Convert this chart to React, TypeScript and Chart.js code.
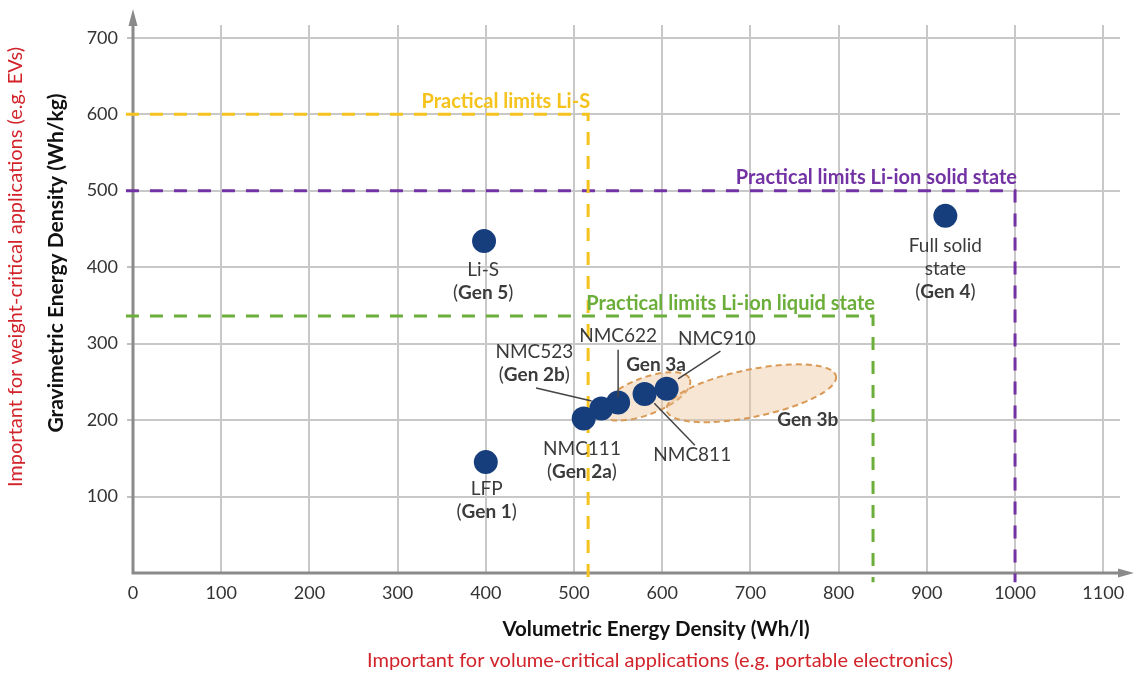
import React, { useEffect, useRef } from 'react';
import { Chart, registerables } from 'chart.js';

Chart.register(...registerables);

// ---------- data ----------
const pointNames = ['LFP', 'Li-S', 'NMC111', 'NMC523', 'NMC622', 'NMC811', 'NMC910', 'Full solid state'];
const volumetric = [400, 398, 511, 531, 550, 580, 605, 921];
const gravimetric = [145, 434, 202, 215, 223, 234, 241, 467];

const xTickValues = [0, 100, 200, 300, 400, 500, 600, 700, 800, 900, 1000, 1100];
const yTickValues = [100, 200, 300, 400, 500, 600, 700];

const limitNames = ['Practical limits Li-S', 'Practical limits Li-ion solid state', 'Practical limits Li-ion liquid state'];
const limitVolumetric = [516, 1000, 839];
const limitGravimetric = [600, 500, 336];
const limitColors = ['#f6c21c', '#7232a3', '#6cae3a'];

// text annotations ('*' toggles bold, '\n' new line)
const annoTexts = [
  'LFP\n(*Gen 1*)',
  'Li-S\n(*Gen 5*)',
  'NMC111\n(*Gen 2a*)',
  'NMC523\n(*Gen 2b*)',
  'NMC622',
  'NMC811',
  'NMC910',
  'Full solid\nstate\n(*Gen 4*)',
  '*Gen 3a*',
  '*Gen 3b*',
];
const annoX = [401, 397, 509, 455, 550, 634, 662, 921, 593, 765];
const annoY = [110, 396, 162, 289, 310, 154, 306, 428, 272, 200];

// leader lines in data units
const leaderFromX = [457, 550, 666, 591];
const leaderFromY = [242, 292, 290, 222];
const leaderToX = [520, 550, 618, 637];
const leaderToY = [225, 230, 254, 167];

// generation regions (ellipses)
const regionNames = ['Gen 3a', 'Gen 3b'];
const regionCx = [581, 701];
const regionCy = [231, 235];
const regionRx = [54, 98];
const regionRy = [24, 31];
const regionAngle = [-21, -11.5];

const FONT = 'Lato, "Noto Sans", sans-serif';

function drawRich(ctx: CanvasRenderingContext2D, text: string, cx: number, cy: number, size: number, color: string) {
  const parts = text.split('*');
  const widths: number[] = [];
  let total = 0;
  parts.forEach((p, i) => {
    ctx.font = `${i % 2 ? 'bold ' : ''}${size}px ${FONT}`;
    const w = ctx.measureText(p).width;
    widths.push(w);
    total += w;
  });
  let x = cx - total / 2;
  ctx.textAlign = 'left';
  ctx.textBaseline = 'middle';
  parts.forEach((p, i) => {
    ctx.font = `${i % 2 ? 'bold ' : ''}${size}px ${FONT}`;
    ctx.fillStyle = color;
    ctx.fillText(p, x, cy);
    x += widths[i];
  });
}

const overlayPlugin = {
  id: 'overlay',
  beforeDatasetsDraw(chart: any) {
    const { ctx, scales } = chart;
    const xs = scales.x;
    const ys = scales.y;
    // ellipses
    regionNames.forEach((_, i) => {
      const cx = xs.getPixelForValue(regionCx[i]);
      const cy = ys.getPixelForValue(regionCy[i]);
      const rx = xs.getPixelForValue(regionCx[i] + regionRx[i]) - cx;
      const ry = cy - ys.getPixelForValue(regionCy[i] + regionRy[i]);
      ctx.save();
      ctx.beginPath();
      ctx.ellipse(cx, cy, rx, ry, (regionAngle[i] * Math.PI) / 180, 0, Math.PI * 2);
      ctx.fillStyle = 'rgba(236, 196, 152, 0.42)';
      ctx.fill();
      ctx.setLineDash([6, 4]);
      ctx.lineWidth = 2;
      ctx.strokeStyle = '#d99a58';
      ctx.stroke();
      ctx.restore();
    });
    // axes with arrows
    const x0 = xs.getPixelForValue(0);
    const y0 = ys.getPixelForValue(0);
    const top = chart.chartArea.top;
    const right = chart.chartArea.right;
    ctx.save();
    ctx.strokeStyle = '#8a8a8a';
    ctx.fillStyle = '#8a8a8a';
    ctx.lineWidth = 3;
    ctx.beginPath();
    ctx.moveTo(x0, y0 + 1.5);
    ctx.lineTo(x0, top);
    ctx.moveTo(x0 - 1.5, y0);
    ctx.lineTo(right, y0);
    ctx.stroke();
    ctx.beginPath();
    ctx.moveTo(x0, top - 16);
    ctx.lineTo(x0 - 4.5, top + 1);
    ctx.lineTo(x0 + 4.5, top + 1);
    ctx.closePath();
    ctx.fill();
    ctx.beginPath();
    ctx.moveTo(right + 14, y0);
    ctx.lineTo(right - 2, y0 - 4.5);
    ctx.lineTo(right - 2, y0 + 4.5);
    ctx.closePath();
    ctx.fill();
    ctx.restore();
  },
  afterDatasetsDraw(chart: any) {
    const { ctx, scales } = chart;
    const xs = scales.x;
    const ys = scales.y;
    // leader lines
    ctx.save();
    ctx.strokeStyle = '#444';
    ctx.lineWidth = 1.5;
    leaderFromX.forEach((_, i) => {
      ctx.beginPath();
      ctx.moveTo(xs.getPixelForValue(leaderFromX[i]), ys.getPixelForValue(leaderFromY[i]));
      ctx.lineTo(xs.getPixelForValue(leaderToX[i]), ys.getPixelForValue(leaderToY[i]));
      ctx.stroke();
    });
    ctx.restore();
    // annotations
    annoTexts.forEach((t, i) => {
      const lines = t.split('\n');
      const cx = xs.getPixelForValue(annoX[i]);
      const cy = ys.getPixelForValue(annoY[i]);
      lines.forEach((ln, j) => drawRich(ctx, ln, cx, cy + j * 23, 19, '#3b3b3b'));
    });
    // limit labels
    limitNames.forEach((name, i) => {
      const px = xs.getPixelForValue(limitVolumetric[i]) + 2;
      const py = ys.getPixelForValue(limitGravimetric[i]) - 13;
      ctx.save();
      ctx.font = `bold 20px ${FONT}`;
      ctx.textAlign = 'right';
      ctx.textBaseline = 'middle';
      ctx.fillStyle = limitColors[i];
      ctx.fillText(name, px, py);
      ctx.restore();
    });
  },
  afterDraw(chart: any) {
    const { ctx } = chart;
    ctx.save();
    ctx.textAlign = 'center';
    ctx.textBaseline = 'middle';
    // y titles
    ctx.save();
    ctx.translate(56, 263);
    ctx.rotate(-Math.PI / 2);
    ctx.font = `bold 21px ${FONT}`;
    ctx.fillStyle = '#111';
    ctx.fillText('Gravimetric Energy Density (Wh/kg)', 0, 0);
    ctx.restore();
    ctx.save();
    ctx.translate(16, 267);
    ctx.rotate(-Math.PI / 2);
    ctx.font = `20px ${FONT}`;
    ctx.fillStyle = '#d2232a';
    ctx.fillText('Important for weight-critical applications (e.g. EVs)', 0, 0);
    ctx.restore();
    // x titles
    ctx.font = `bold 20.5px ${FONT}`;
    ctx.fillStyle = '#111';
    ctx.fillText('Volumetric Energy Density (Wh/l)', 656, 629);
    ctx.font = `20px ${FONT}`;
    ctx.fillStyle = '#d2232a';
    ctx.fillText('Important for volume-critical applications (e.g. portable electronics)', 660, 661);
    ctx.restore();
  },
};

export default function App() {
  const ref = useRef<HTMLCanvasElement>(null);
  useEffect(() => {
    const canvas = ref.current;
    if (!canvas) return;
    const datasets: any[] = [
      {
        label: 'Chemistries',
        data: volumetric.map((v, i) => ({ x: v, y: gravimetric[i], name: pointNames[i] })),
        pointRadius: 12,
        pointHoverRadius: 12,
        backgroundColor: '#173e7c',
        borderWidth: 0,
      },
      ...limitNames.map((name, i) => ({
        type: 'line',
        label: name,
        data: [
          { x: -8, y: limitGravimetric[i] },
          { x: limitVolumetric[i], y: limitGravimetric[i] },
          { x: limitVolumetric[i], y: -12 },
        ],
        showLine: true,
        borderColor: limitColors[i],
        borderWidth: 3,
        borderDash: [13, 11],
        pointRadius: 0,
        fill: false,
        tension: 0,
        clip: false,
      })),
    ];
    const chart = new Chart(canvas, {
      type: 'scatter',
      data: { datasets },
      options: {
        responsive: false,
        animation: false,
        devicePixelRatio: 1,
        layout: { padding: { top: 25, right: 16, left: 0, bottom: 0 } },
        plugins: { legend: { display: false }, tooltip: { enabled: false } },
        scales: {
          x: {
            type: 'linear',
            min: 0,
            max: 1119,
            afterFit: (s: any) => { s.height = 100; },
            afterBuildTicks: (s: any) => { s.ticks = xTickValues.map((v) => ({ value: v })); },
            ticks: {
              stepSize: 100, includeBounds: false, autoSkip: false, maxRotation: 0, padding: 9,
              color: '#333', font: { family: FONT, size: 18 },
              callback: (v: any) => String(v),
            },
            grid: { color: '#c8c8c8', lineWidth: 2, drawTicks: false },
            border: { display: false },
          },
          y: {
            type: 'linear',
            min: 0,
            max: 716.6,
            afterFit: (s: any) => { s.width = 133; },
            afterBuildTicks: (s: any) => { s.ticks = yTickValues.map((v) => ({ value: v })); },
            ticks: {
              stepSize: 100, includeBounds: false, padding: 9, color: '#333', font: { family: FONT, size: 18 },
              callback: (v: any) => String(v),
            },
            grid: { color: '#c8c8c8', lineWidth: 2, drawTicks: true, tickLength: 6, tickColor: '#c0c0c0' },
            border: { display: false },
          },
        },
      } as any,
      plugins: [overlayPlugin],
    });
    return () => chart.destroy();
  }, []);
  return (
    <div style={{ position: 'fixed', left: 0, top: 0, width: 1136, height: 673, background: '#fff' }}>
      <canvas ref={ref} width={1136} height={673} style={{ display: 'block' }} />
    </div>
  );
}
